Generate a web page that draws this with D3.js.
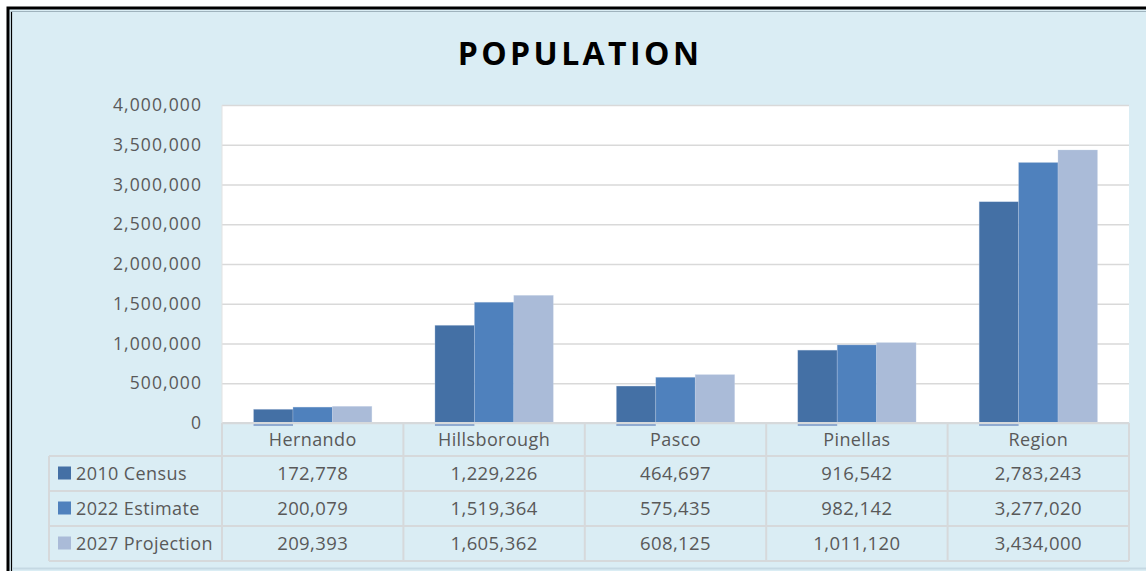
<!DOCTYPE html>
<html>
 <head>
 <title>Population</title>
 <meta charset="UTF-8">
 <style type="text/css">
  body { margin: 0; background: #fff; }
  text { font-family: "Open Sans", sans-serif; fill: #595959; }
 </style>
 <script src="https://d3js.org/d3.v7.min.js"></script>
 </head>
 <body>
 <script type="text/javascript">

    var categories = ["Hernando", "Hillsborough", "Pasco", "Pinellas", "Region"];
    var seriesNames = ["2010 Census", "2022 Estimate", "2027 Projection"];
    var census2010 = [172778, 1229226, 464697, 916542, 2783243];
    var estimate2022 = [200079, 1519364, 575435, 982142, 3277020];
    var projection2027 = [209393, 1605362, 608125, 1011120, 3434000];
    var yTicks = [0, 500000, 1000000, 1500000, 2000000, 2500000, 3000000, 3500000, 4000000];

    var seriesValues = [census2010, estimate2022, projection2027];
    var colors = ["#4470a5", "#4f81bd", "#aabbd8"];

    var width = 1146, height = 571;
    var plot = {left: 222, right: 1129, top: 105, bottom: 423};
    var rowH = 35, headerBottom = 456, tableLeft = 49;

    var fmt = d3.format(",");

    var svg = d3.select("body")
        .append("svg")
        .attr("width", width)
        .attr("height", height);

    // background + double frame
    svg.append("rect")
        .attr("x", 8).attr("y", 8)
        .attr("width", width + 20).attr("height", height - 2)
        .attr("fill", "#daedf4")
        .attr("stroke", "#000").attr("stroke-width", 3);
    svg.append("line")
        .attr("x1", 11.5).attr("x2", 11.5)
        .attr("y1", 11).attr("y2", height)
        .attr("stroke", "#000").attr("stroke-width", 1.2);
    svg.append("line")
        .attr("x1", 11).attr("x2", width)
        .attr("y1", 11.5).attr("y2", 11.5)
        .attr("stroke", "#9fb3bd").attr("stroke-width", 1);
    svg.append("line")
        .attr("x1", 12).attr("x2", width)
        .attr("y1", 568.5).attr("y2", 568.5)
        .attr("stroke", "#c5d9e3").attr("stroke-width", 2);

    svg.append("text")
        .attr("x", 580).attr("y", 65)
        .attr("text-anchor", "middle")
        .style("font-size", "32px")
        .style("font-weight", "bold")
        .style("letter-spacing", "3.4px")
        .style("fill", "#000")
        .text("POPULATION");

    // scales
    var x = d3.scaleBand()
        .domain(categories)
        .range([plot.left, plot.right]);

    var xs = d3.scaleBand()
        .domain(seriesNames)
        .range([0, x.bandwidth()])
        .paddingInner(0)
        .paddingOuter(0.8);

    var y = d3.scaleLinear()
        .domain([0, 4000000])
        .range([plot.bottom, plot.top]);

    svg.append("rect")
        .attr("x", plot.left).attr("y", plot.top)
        .attr("width", plot.right - plot.left)
        .attr("height", plot.bottom - plot.top)
        .attr("fill", "#fff");

    // gridlines
    var grid = svg.append("g")
        .attr("class", "grid")
        .attr("transform", "translate(" + plot.left + ",0)")
        .call(d3.axisLeft(y).tickValues(yTicks).tickSize(-(plot.right - plot.left)).tickFormat(""));
    grid.select(".domain").remove();
    grid.selectAll("line").attr("stroke", "#d9d9d9").attr("stroke-width", 1.5);

    // y axis labels
    var yAxis = svg.append("g")
        .attr("class", "y axis")
        .attr("transform", "translate(" + plot.left + ",0)")
        .call(d3.axisLeft(y).tickValues(yTicks).tickSize(0).tickPadding(20).tickFormat(fmt));
    yAxis.select(".domain").remove();
    yAxis.selectAll("text")
        .attr("fill", "#595959")
        .style("font-size", "17.5px")
        .style("letter-spacing", "1.1px")
        .style("font-family", "'Open Sans', sans-serif");

    // bars
    var groups = svg.selectAll(".series")
        .data(seriesValues)
        .enter().append("g")
        .attr("class", "series")
        .attr("fill", function(d, i) { return colors[i]; });

    groups.selectAll("rect")
        .data(function(vals, i) { return vals.map(function(v, j) { return {s: i, c: categories[j], v: v}; }); })
        .enter().append("rect")
        .attr("x", function(d) { return x(d.c) + xs(seriesNames[d.s]); })
        .attr("y", function(d) { return y(d.v); })
        .attr("width", xs.bandwidth())
        .attr("height", function(d) { return y(0) - y(d.v); })
        .attr("stroke", "#c8d6ea")
        .attr("stroke-width", 0.6)
        .attr("stroke-opacity", 0.5);

    // small shadow under first series
    svg.selectAll(".shadow")
        .data(census2010)
        .enter().append("rect")
        .attr("class", "shadow")
        .attr("x", function(d, j) { return x(categories[j]) + xs(seriesNames[0]); })
        .attr("y", y(0) + 1)
        .attr("width", xs.bandwidth())
        .attr("height", 2)
        .attr("fill", "#8faad0");

    // data table
    var lineColor = "#d6d9db";
    var table = svg.append("g").attr("class", "table");
    var tableBottom = headerBottom + rowH * seriesNames.length;

    table.append("line")
        .attr("x1", plot.left).attr("x2", plot.right)
        .attr("y1", plot.bottom).attr("y2", plot.bottom);
    table.selectAll(".hline")
        .data(d3.range(seriesNames.length + 1))
        .enter().append("line")
        .attr("class", "hline")
        .attr("x1", tableLeft).attr("x2", plot.right)
        .attr("y1", function(i) { return headerBottom + i * rowH; })
        .attr("y2", function(i) { return headerBottom + i * rowH; });
    table.selectAll(".vline")
        .data(categories.concat(["end"]))
        .enter().append("line")
        .attr("class", "vline")
        .attr("x1", function(c, i) { return i < categories.length ? x(c) : plot.right; })
        .attr("x2", function(c, i) { return i < categories.length ? x(c) : plot.right; })
        .attr("y1", plot.bottom).attr("y2", tableBottom);
    table.append("line")
        .attr("x1", tableLeft).attr("x2", tableLeft)
        .attr("y1", headerBottom).attr("y2", tableBottom);
    table.selectAll("line").attr("stroke", lineColor).attr("stroke-width", 2);

    // plot left edge
    svg.append("line")
        .attr("x1", plot.left).attr("x2", plot.left)
        .attr("y1", plot.top).attr("y2", plot.bottom)
        .attr("stroke", "#e2e2e2").attr("stroke-width", 1);

    table.selectAll(".cat")
        .data(categories)
        .enter().append("text")
        .attr("class", "cat")
        .attr("x", function(c) { return x(c) + x.bandwidth() / 2; })
        .attr("y", (plot.bottom + headerBottom) / 2 - 1)
        .attr("text-anchor", "middle")
        .attr("dominant-baseline", "central")
        .style("font-size", "18px")
        .style("letter-spacing", "0.4px")
        .text(function(c) { return c; });

    var rows = table.selectAll(".row")
        .data(seriesValues)
        .enter().append("g")
        .attr("class", "row")
        .attr("transform", function(d, i) { return "translate(0," + (headerBottom + i * rowH + rowH / 2 - 1) + ")"; });

    rows.append("rect")
        .attr("x", 58).attr("y", -6)
        .attr("width", 13).attr("height", 13)
        .attr("fill", function(d, i) { return colors[i]; });

    rows.append("text")
        .attr("x", 76).attr("y", 0)
        .attr("dominant-baseline", "central")
        .style("font-size", "18px")
        .style("letter-spacing", "0.4px")
        .text(function(d, i) { return seriesNames[i]; });

    rows.selectAll(".val")
        .data(function(d) { return d; })
        .enter().append("text")
        .attr("class", "val")
        .attr("x", function(v, j) { return x(categories[j]) + x.bandwidth() / 2; })
        .attr("y", 0)
        .attr("text-anchor", "middle")
        .attr("dominant-baseline", "central")
        .style("font-size", "18.5px")
        .style("letter-spacing", "0.4px")
        .text(function(v) { return fmt(v); });

 </script>
 </body>
</html>
